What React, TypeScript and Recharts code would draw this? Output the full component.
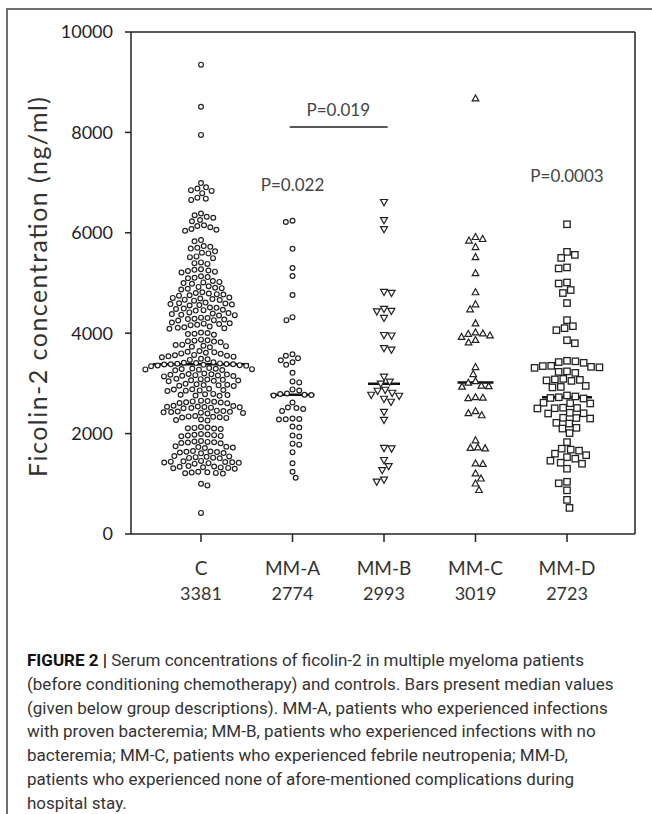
import React from 'react';
import { ScatterChart, Scatter, XAxis, YAxis, ReferenceLine, ReferenceDot } from 'recharts';

// groups along the x axis, with their medians (printed under the names)
const groups = ['C', 'MM-A', 'MM-B', 'MM-C', 'MM-D'];
const medians = [3381, 2774, 2993, 3019, 2723];
const yTicks = [0, 2000, 4000, 6000, 8000, 10000];

// ficolin-2 values (ng/ml)
const controlValues = [
  9350, 8510, 7950, 6990, 6905, 6880, 6850, 6835, 6790, 6700, 6680, 6655,
  6385, 6350, 6320, 6300, 6255, 6230, 6150, 6135, 6110, 6075, 6060, 6040,
  5855, 5830, 5735, 5720, 5700, 5685, 5630, 5605, 5590, 5530, 5515, 5495, 5410, 5395, 5380,
  5275, 5262, 5250, 5238, 5226, 5210, 5135, 5118, 5106, 5095,
  5040, 5022, 5012, 4998, 4985, 4935, 4922, 4905, 4897, 4884, 4872,
  4815, 4802, 4790, 4778, 4770, 4756, 4748, 4712, 4703, 4690, 4679, 4668, 4660, 4648,
  4610, 4598, 4592, 4580, 4571, 4560, 4551, 4512, 4505, 4490, 4482, 4468, 4459, 4450,
  4414, 4400, 4393, 4380, 4368, 4360, 4352, 4310, 4302, 4288, 4281, 4272, 4260, 4252,
  4212, 4198, 4190, 4182, 4166, 4160, 4134, 4120, 4108, 4100, 4090,
  4012, 4003, 3990, 3982, 3968, 3872, 3860, 3852, 3840, 3833, 3818,
  3772, 3764, 3750, 3742, 3731, 3720, 3645, 3630, 3622, 3610, 3598, 3590,
  3568, 3560, 3552, 3540, 3533, 3520, 3492, 3480, 3468,
  3422, 3412, 3404, 3398, 3392, 3386, 3381, 3381, 3376, 3370, 3364, 3357, 3350, 3344,
  3305, 3297, 3291, 3288, 3284, 3279, 3274, 3268, 3260,
  3196, 3188, 3181, 3175, 3171, 3164, 3158, 3153, 3147, 3139,
  3092, 3085, 3077, 3071, 3064, 3058, 3051, 3044,
  2991, 2983, 2974, 2967, 2961, 2954, 2947,
  2893, 2884, 2877, 2869, 2861, 2856, 2849,
  2791, 2783, 2774, 2767, 2759, 2752,
  2656, 2647, 2641, 2633, 2625, 2619, 2611, 2604,
  2556, 2549, 2541, 2535, 2529, 2523, 2517, 2511, 2504,
  2457, 2448, 2441, 2433, 2429, 2423, 2417, 2409, 2401,
  2351, 2343, 2334, 2327, 2321, 2313, 2281, 2271, 2262,
  2131, 2123, 2114, 2107, 2101, 2093,
  1991, 1983, 1977, 1969, 1963, 1954, 1947,
  1851, 1843, 1835, 1829, 1823, 1814, 1807,
  1749, 1739, 1731, 1723, 1714,
  1653, 1644, 1637, 1631, 1623, 1614, 1607,
  1552, 1546, 1537, 1531, 1521, 1516, 1507,
  1456, 1447, 1441, 1434, 1429, 1425, 1417, 1411, 1401,
  1353, 1344, 1339, 1331, 1327, 1317, 1311, 1301,
  1241, 1231, 1226, 1217, 1211, 1203,
  1000, 968, 420,
];

const mmAValues = [
  6240, 6215, 5680, 5300, 5140, 4760, 4320, 4260,
  3580, 3550, 3500, 3460, 3420, 3370, 3210, 3040, 3020,
  2880, 2860, 2800, 2790, 2774, 2770, 2760,
  2620, 2520, 2510, 2490, 2450, 2300, 2290, 2285, 2280,
  2140, 2120, 1960, 1940, 1800, 1780, 1630, 1410, 1240, 1120,
];

const mmBValues = [
  6610, 6250, 6070, 4820, 4800, 4480, 4440, 4430, 4300, 3960, 3950, 3700, 3670,
  3130, 3030, 2993, 2870, 2850, 2810, 2770, 2750, 2690, 2630, 2430, 2270,
  1710, 1700, 1470, 1350, 1270, 1080, 1040,
];

const mmCValues = [
  8680, 5920, 5880, 5850, 5720, 5520, 5200, 4820, 4580, 4480, 4200,
  4020, 4000, 3990, 3960, 3930, 3870, 3820,
  3330, 3190, 3050, 3019, 2960, 2950, 2940, 2730, 2720, 2710,
  2450, 2410, 2370, 1870, 1730, 1720, 1710, 1410, 1400, 1210, 1110, 1010, 880,
];

const mmDValues = [
  6170, 5620, 5560, 5500, 5310, 5290, 5010, 4990, 4860, 4800, 4600,
  4260, 4140, 4100, 4060, 3860, 3800,
  3450, 3440, 3425, 3410, 3350, 3345, 3330, 3320, 3310, 3240, 3230, 3210,
  3090, 3080, 3070, 3060, 3050, 2950, 2930, 2920,
  2760, 2740, 2723, 2710, 2700,
  2615, 2605, 2600, 2515, 2510, 2505, 2500, 2415, 2405, 2400,
  2315, 2310, 2300, 2215, 2200, 2115, 2100, 2010,
  1830, 1700, 1680, 1660, 1600, 1570, 1530, 1500, 1460, 1420, 1400, 1300,
  1040, 1010, 870, 680, 520,
];

// chart geometry
const W = 652;
const H = 640;
const margin = { top: 32, right: 17, bottom: 36, left: 71 };
const Y_AXIS_W = 60;
const X_AXIS_H = 70;
const X_DOMAIN: [number, number] = [0.235, 5.743];
const plotW = W - margin.left - margin.right - Y_AXIS_W;
const plotH = H - margin.top - margin.bottom - X_AXIS_H;
const pxPerX = plotW / (X_DOMAIN[1] - X_DOMAIN[0]);
const pxPerY = plotH / 10000;

const ink = '#222';
const font = 'Lato, "Open Sans", sans-serif';

// simple beeswarm: spread points sideways so markers don't overlap
function swarm(values: number[], center: number, diameter: number) {
  const order = values.map((_, i) => i).sort((a, b) => values[b] - values[a]);
  const placed: { x: number; y: number }[] = [];
  const out: { x: number; y: number }[] = new Array(values.length);
  const d2 = diameter * diameter;
  order.forEach((idx, k) => {
    const y = values[idx] * pxPerY;
    const near = placed.filter((p) => Math.abs(p.y - y) < diameter);
    const cands = [0];
    near.forEach((p) => {
      const dx = Math.sqrt(d2 - (p.y - y) ** 2);
      cands.push(p.x + dx, p.x - dx);
    });
    cands.sort((a, b) => Math.abs(a) - Math.abs(b) || (k % 2 ? a - b : b - a));
    const x =
      cands.find((c) => near.every((p) => Math.abs(c - p.x) >= Math.sqrt(d2 - (p.y - y) ** 2) - 1e-6)) ?? 0;
    placed.push({ x, y });
    out[idx] = { x: center + x / pxPerX, y: values[idx] };
  });
  return out;
}

const circleShape = (props: any) => (
  <circle cx={props.cx} cy={props.cy} r={2.4} fill="#fff" stroke={ink} strokeWidth={1.2} />
);
const triDownShape = (props: any) => {
  const { cx, cy } = props;
  return (
    <polygon
      points={`${cx - 3.5},${cy - 2.7} ${cx + 3.5},${cy - 2.7} ${cx},${cy + 3.5}`}
      fill="#fff"
      stroke={ink}
      strokeWidth={1.2}
    />
  );
};
const triUpShape = (props: any) => {
  const { cx, cy } = props;
  return (
    <polygon
      points={`${cx - 3.3},${cy + 2.7} ${cx + 3.3},${cy + 2.7} ${cx},${cy - 3.3}`}
      fill="#fff"
      stroke={ink}
      strokeWidth={1.2}
    />
  );
};
const squareShape = (props: any) => (
  <rect x={props.cx - 3.2} y={props.cy - 3.2} width={6.4} height={6.4} fill="#fff" stroke={ink} strokeWidth={1.3} />
);

const series = [
  { values: controlValues, shape: circleShape, diameter: 6.6, lineHalf: 48 },
  { values: mmAValues, shape: circleShape, diameter: 6.8, lineHalf: 22 },
  { values: mmBValues, shape: triDownShape, diameter: 7.6, lineHalf: 16 },
  { values: mmCValues, shape: triUpShape, diameter: 7.4, lineHalf: 18 },
  { values: mmDValues, shape: squareShape, diameter: 8.4, lineHalf: 25 },
];

const XTick = (props: any) => {
  const { x, y, payload } = props;
  const i = payload.value - 1;
  return (
    <g>
      <text x={x} y={y + 33} textAnchor="middle" fill="#333" fontSize={19} fontFamily={font}>
        {groups[i]}
      </text>
      <text x={x} y={y + 58} textAnchor="middle" fill="#333" fontSize={18} fontFamily={font}>
        {medians[i]}
      </text>
    </g>
  );
};

const YTitle = () => (
  <text
    x={37}
    y={287}
    transform="rotate(-90 37 287)"
    textAnchor="middle"
    dominantBaseline="central"
    fill="#333"
    fontSize={25}
    fontFamily={font}
    textLength={380}
    lengthAdjust="spacing"
  >
    Ficolin-2 concentration (ng/ml)
  </text>
);

const pLabel = (text: string) => ({
  value: text,
  position: 'center' as const,
  fill: '#444',
  fontSize: 17,
  fontFamily: font,
});

const captionLines = [
  'Serum concentrations of ficolin-2 in multiple myeloma patients',
  '(before conditioning chemotherapy) and controls. Bars present median values',
  '(given below group descriptions). MM-A, patients who experienced infections',
  'with proven bacteremia; MM-B, patients who experienced infections with no',
  'bacteremia; MM-C, patients who experienced febrile neutropenia; MM-D,',
  'patients who experienced none of afore-mentioned complications during',
  'hospital stay.',
];

export default function App() {
  return (
    <div style={{ position: 'absolute', left: 0, top: 0, width: 652, height: 814, background: '#fff', overflow: 'hidden' }}>
      <div style={{ position: 'absolute', left: 7, top: 8, width: 645, height: 2, background: '#6e6e6e' }} />
      <div style={{ position: 'absolute', left: 6, top: 8, width: 2, height: 806, background: '#6e6e6e' }} />
      <div style={{ position: 'absolute', left: 0, top: 0 }}>
        <ScatterChart width={W} height={H} margin={margin}>
          <XAxis
            type="number"
            dataKey="x"
            domain={X_DOMAIN}
            ticks={[1, 2, 3, 4, 5]}
            interval={0}
            allowDataOverflow
            height={X_AXIS_H}
            tickSize={8}
            tickMargin={0}
            tick={<XTick />}
            axisLine={{ stroke: ink, strokeWidth: 1.5 }}
            tickLine={{ stroke: ink, strokeWidth: 1.5 }}
          />
          <YAxis
            type="number"
            dataKey="y"
            domain={[0, 10000]}
            ticks={yTicks}
            interval={0}
            width={Y_AXIS_W}
            tickSize={6}
            tickMargin={12}
            tick={{ fill: '#1e1e2a', fontSize: 18, fontFamily: font }}
            axisLine={{ stroke: ink, strokeWidth: 1.5 }}
            tickLine={{ stroke: ink, strokeWidth: 1.5 }}
            label={<YTitle />}
          />
          <ReferenceLine y={10000} stroke={ink} strokeWidth={1.5} />
          <ReferenceLine x={X_DOMAIN[1]} stroke={ink} strokeWidth={1.5} />
          {series.map((s, i) => (
            <Scatter
              key={groups[i]}
              name={groups[i]}
              data={swarm(s.values, i + 1, s.diameter)}
              shape={s.shape}
              isAnimationActive={false}
            />
          ))}
          {series.map((s, i) => (
            <ReferenceLine
              key={'med-' + groups[i]}
              segment={[
                { x: i + 1 - s.lineHalf / pxPerX, y: medians[i] },
                { x: i + 1 + s.lineHalf / pxPerX, y: medians[i] },
              ]}
              stroke="#111"
              strokeWidth={2.5}
            />
          ))}
          <ReferenceLine
            segment={[
              { x: 1.97, y: 8110 },
              { x: 3.04, y: 8110 },
            ]}
            stroke={ink}
            strokeWidth={1.5}
          />
          <ReferenceDot x={2.5} y={8450} r={0} fill="none" stroke="none" label={pLabel('P=0.019')} />
          <ReferenceDot x={2} y={6950} r={0} fill="none" stroke="none" label={pLabel('P=0.022')} />
          <ReferenceDot x={5} y={7130} r={0} fill="none" stroke="none" label={pLabel('P=0.0003')} />
        </ScatterChart>
      </div>
      <div
        style={{
          position: 'absolute',
          left: 27,
          top: 649,
          fontFamily: 'Roboto, "Liberation Sans", sans-serif',
          fontSize: 17,
          lineHeight: '23.8px',
          color: '#333',
          whiteSpace: 'nowrap',
        }}
      >
        {captionLines.map((line, i) => (
          <div key={i}>
            {i === 0 && <b style={{ color: '#111' }}>FIGURE 2 | </b>}
            {line}
          </div>
        ))}
      </div>
    </div>
  );
}
